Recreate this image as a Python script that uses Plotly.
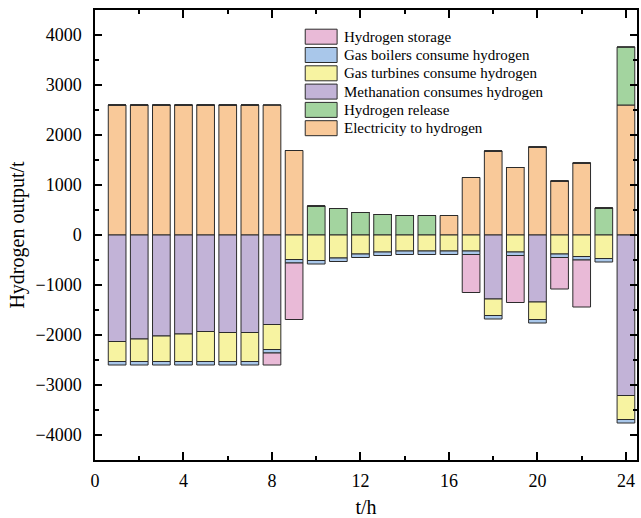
import plotly.graph_objects as go

hours = list(range(1, 25))

electricity = [2600, 2600, 2600, 2600, 2600, 2600, 2600, 2600, 1690, 0, 0, 0,
               0, 0, 0, 390, 1150, 1680, 1350, 1760, 1080, 1440, 0, 2600]
release = [0, 0, 0, 0, 0, 0, 0, 0, 0, 580, 530, 450,
           410, 390, 390, 0, 0, 0, 0, 0, 0, 0, 540, 1160]
methanation = [-2130, -2080, -2020, -1980, -1930, -1950, -1950, -1790, 0, 0, 0, 0,
               0, 0, 0, 0, 0, -1280, 0, -1340, 0, 0, 0, -3210]
turbines = [-400, -450, -510, -550, -600, -580, -580, -500, -490, -510, -460, -380,
            -340, -320, -320, -320, -320, -330, -340, -350, -380, -430, -470, -480]
boilers = [-70, -70, -70, -70, -70, -70, -70, -70, -70, -70, -70, -70,
           -70, -70, -70, -70, -70, -70, -70, -70, -70, -70, -70, -70]
storage = [0, 0, 0, 0, 0, 0, 0, -240, -1130, 0, 0, 0,
           0, 0, 0, 0, -760, 0, -940, 0, -630, -940, 0, 0]

series = [
    ("Electricity to hydrogen", electricity, "#F9C999"),
    ("Hydrogen release", release, "#A3D49F"),
    ("Methanation consumes hydrogen", methanation, "#C2B3D7"),
    ("Gas turbines consume hydrogen", turbines, "#F7F3A1"),
    ("Gas boilers consume hydrogen", boilers, "#A9C7EA"),
    ("Hydrogen storage", storage, "#E9BAD7"),
]

fig = go.Figure()
for name, vals, col in series:
    fig.add_trace(go.Bar(
        x=hours, y=vals, name=name, width=0.8, showlegend=False,
        marker=dict(color=col, line=dict(color="#2b2b2b", width=1)),
    ))

serif = "Liberation Serif"
W, H = 641, 518
ML, MR, MT, MB = 95, 2, 10, 58
pw, ph = W - ML - MR, H - MT - MB

# legend drawn as paper-anchored swatches + text (reversed series order)
shapes = []
annotations = []
row0, rowgap, swh = 36.7, 18.3, 15
sx0, sx1, tx = 306, 338, 343
for i, (name, _, col) in enumerate(reversed(series)):
    cy = row0 + i * rowgap
    shapes.append(dict(
        type="rect", xref="paper", yref="paper",
        x0=(sx0 - ML) / pw, x1=(sx1 - ML) / pw,
        y0=1 - (cy + swh / 2 - MT) / ph, y1=1 - (cy - swh / 2 - MT) / ph,
        fillcolor=col, line=dict(color="#2b2b2b", width=1),
    ))
    annotations.append(dict(
        xref="paper", yref="paper", x=(tx - ML) / pw, y=1 - (cy - MT) / ph,
        xanchor="left", yanchor="middle", showarrow=False, text=name,
        font=dict(family=serif, size=15, color="black"),
    ))

fig.update_layout(
    barmode="relative",
    width=W, height=H,
    margin=dict(l=ML, r=MR, t=MT, b=MB),
    plot_bgcolor="white", paper_bgcolor="white",
    font=dict(family=serif, color="black", size=18),
    showlegend=False,
    shapes=shapes,
    annotations=annotations,
)
fig.update_xaxes(
    range=[0, 24.5], tickmode="linear", tick0=0, dtick=4,
    ticks="inside", ticklen=8, tickwidth=1.5, tickcolor="black",
    minor=dict(ticks="inside", dtick=2, ticklen=4, tickwidth=1.5, tickcolor="black"),
    showline=True, linecolor="black", linewidth=1.5, mirror="allticks",
    showgrid=False, zeroline=False,
    ticklabelstandoff=4,
    title=dict(text="t/h", font=dict(family=serif, size=20), standoff=10),
)
fig.update_yaxes(
    range=[-4500, 4500], tickmode="linear", tick0=0, dtick=1000,
    ticks="inside", ticklen=7, tickwidth=1.5, tickcolor="black",
    minor=dict(ticks="inside", dtick=500, ticklen=4, tickwidth=1.5, tickcolor="black"),
    showline=True, linecolor="black", linewidth=1.5, mirror="allticks",
    showgrid=False, zeroline=False,
    ticklabelstandoff=8,
    title=dict(text="Hydrogen output/t", font=dict(family=serif, size=20), standoff=5),
)

fig.write_html("out.html")
